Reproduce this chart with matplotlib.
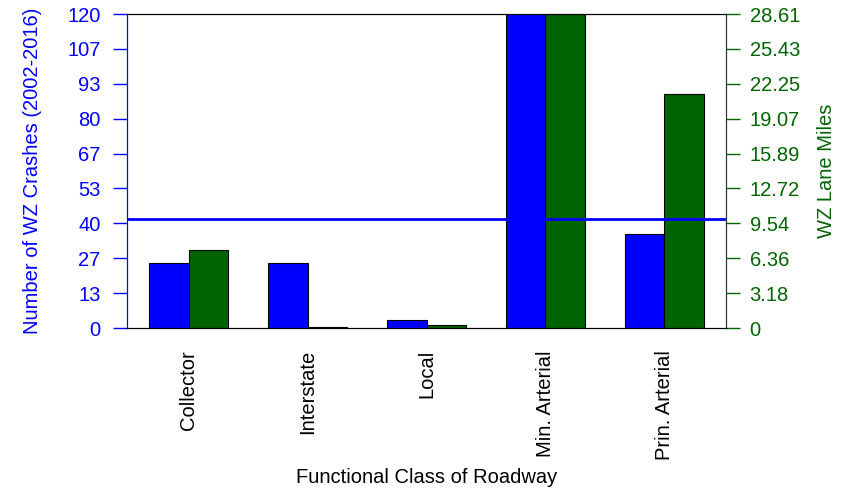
import numpy as np
import matplotlib
matplotlib.use("Agg")
import matplotlib.pyplot as plt

plt.rcParams['font.family'] = ['Liberation Sans', 'DejaVu Sans']

# Data
road_classes = ['Collector', 'Interstate', 'Local', 'Min. Arterial', 'Prin. Arterial']
crashes = [25, 25, 3, 120, 36]          # number of WZ crashes (2002-2016)
lane_miles = [7.15, 0.12, 0.25, 28.61, 21.35]   # WZ lane miles

crash_color = 'blue'
miles_color = '#006400'
fs = 14.5

fig = plt.figure(figsize=(8.48, 4.95), dpi=100)
ax = fig.add_axes([127 / 848, 1 - 328 / 495, (726 - 127) / 848, (328 - 14) / 495])
ax2 = ax.twinx()

# put the crash axis (and mean line) above the miles axis
ax.set_zorder(ax2.get_zorder() + 1)
ax.patch.set_visible(False)

n = len(road_classes)
group = np.arange(n) * 3
ax.bar(group + 1.5, crashes, width=1.0, color=crash_color, edgecolor='black', linewidth=0.8)
ax2.bar(group + 2.5, lane_miles, width=1.0, color=miles_color, edgecolor='black', linewidth=0.8)

ax.axhline(np.mean(crashes), color='blue', linewidth=2)

crash_max = max(crashes)
miles_max = max(lane_miles)
ax.set_ylim(0, crash_max)
ax2.set_ylim(0, miles_max)
ax.set_xlim(0.44, 15.56)

# left axis
left_ticks = np.linspace(0, crash_max, 10)
ax.set_yticks(left_ticks)
ax.set_yticklabels([f"{round(v):d}" for v in left_ticks])
ax.tick_params(axis='y', colors=crash_color, labelsize=fs, length=10, width=1, pad=9)
ax.set_ylabel('Number of WZ Crashes (2002-2016)', color=crash_color, fontsize=fs, labelpad=18)

# right axis
right_ticks = np.linspace(0, miles_max, 10)
ax2.set_yticks(right_ticks)
ax2.set_yticklabels(['0' if v == 0 else f"{v:.2f}" for v in right_ticks])
ax2.tick_params(axis='y', colors=miles_color, labelsize=fs, length=10, width=1, pad=7)
ax2.set_ylabel('WZ Lane Miles', color=miles_color, fontsize=fs, labelpad=12)

# x axis: rotated category labels, no tick marks
ax.set_xticks(group + 2)
ax.set_xticklabels(road_classes, rotation=90, fontsize=fs)
ax.tick_params(axis='x', length=0, pad=16)
ax.set_xlabel('Functional Class of Roadway', fontsize=fs, labelpad=6)

for a in (ax, ax2):
    a.spines['top'].set_color('black')
    a.spines['bottom'].set_color('black')
    a.spines['left'].set_color(crash_color)
    a.spines['right'].set_color('#333333')

fig.savefig('out.png', dpi=100)
